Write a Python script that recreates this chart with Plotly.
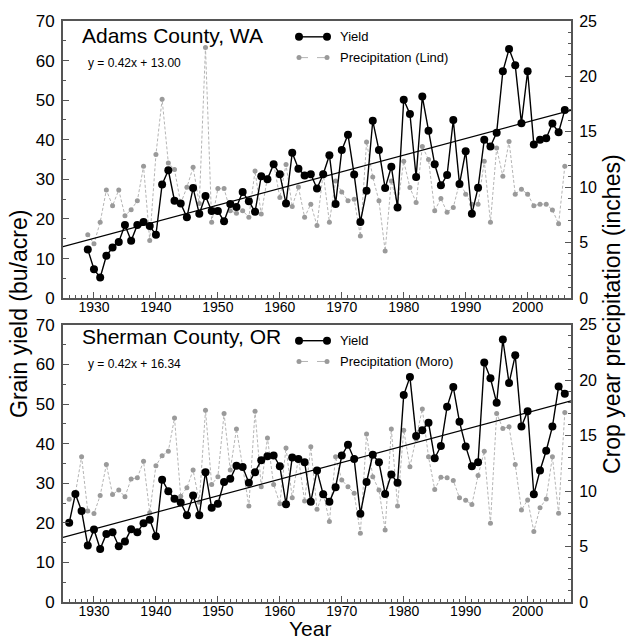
import plotly.graph_objects as go

# ---------------- data ----------------
adams_years = [1929, 1930, 1931, 1932, 1933, 1934, 1935, 1936, 1937, 1938, 1939,
               1940, 1941, 1942, 1943, 1944, 1945, 1946, 1947, 1948, 1949,
               1950, 1951, 1952, 1953, 1954, 1955, 1956, 1957, 1958, 1959,
               1960, 1961, 1962, 1963, 1964, 1965, 1966, 1967, 1968, 1969,
               1970, 1971, 1972, 1973, 1974, 1975, 1976, 1977, 1978, 1979,
               1980, 1981, 1982, 1983, 1984, 1985, 1986, 1987, 1988, 1989,
               1990, 1991, 1992, 1993, 1994, 1995, 1996, 1997, 1998, 1999,
               2000, 2001, 2002, 2003, 2004, 2005, 2006]
adams_yield = [12.3, 7.3, 5.2, 10.7, 12.8, 14.2, 18.5, 14.5, 18.5, 19.2, 18.2,
               16.0, 28.7, 32.3, 24.6, 23.9, 20.4, 27.8, 21.3, 25.8, 22.0,
               22.0, 19.4, 23.8, 23.0, 26.8, 24.5, 21.8, 30.8, 30.0, 33.8,
               31.3, 23.9, 36.7, 32.7, 31.0, 31.3, 27.7, 31.3, 36.1, 23.8,
               37.4, 41.3, 31.2, 19.2, 27.1, 44.8, 37.4, 27.8, 33.2, 22.9,
               50.1, 46.5, 30.6, 50.9, 42.3, 33.8, 28.5, 31.1, 45.0, 28.8,
               37.1, 21.3, 27.9, 40.0, 38.3, 41.8, 57.3, 62.9, 58.8, 44.2,
               57.3, 38.8, 40.0, 40.4, 44.1, 41.9, 47.5]
adams_precip = [5.71, 4.90, 6.85, 9.76, 8.33, 9.76, 7.44, 7.98, 8.78, 11.9, 5.21,
                12.95, 17.95, 12.2, 11.6, 8.54, 10.0, 11.8, 8.54, 22.6, 6.85,
                9.88, 9.88, 7.89, 7.65, 7.89, 7.29, 11.46, 7.59, 10.86, 12.14,
                9.08, 12.05, 8.27, 10.03, 7.29, 8.48, 6.55, 11.3, 6.85, 10.56,
                9.58, 8.78, 8.93, 5.60, 14.08, 10.92, 8.78, 4.26, 10.56, 8.33,
                12.35, 9.97, 8.63, 13.69, 12.5, 7.89, 8.99, 7.74, 8.18, 10.4,
                9.38, 8.48, 8.48, 12.35, 6.85, 13.54, 11.0, 14.14, 9.38, 9.82,
                9.38, 8.33, 8.48, 8.48, 7.95, 6.70, 11.9]

sherman_years = [1926, 1927, 1928, 1929, 1930, 1931, 1932, 1933, 1934, 1935,
                 1936, 1937, 1938, 1939, 1940, 1941, 1942, 1943, 1944, 1945,
                 1946, 1947, 1948, 1949, 1950, 1951, 1952, 1953, 1954, 1955,
                 1956, 1957, 1958, 1959, 1960, 1961, 1962, 1963, 1964, 1965,
                 1966, 1967, 1968, 1969, 1970, 1971, 1972, 1973, 1974, 1975,
                 1976, 1977, 1978, 1979, 1980, 1981, 1982, 1983, 1984, 1985,
                 1986, 1987, 1988, 1989, 1990, 1991, 1992, 1993, 1994, 1995,
                 1996, 1997, 1998, 1999, 2000, 2001, 2002, 2003, 2004, 2005, 2006]
sherman_yield = [20.0, 27.3, 23.0, 14.3, 18.3, 13.4, 17.2, 17.6, 14.1, 15.3,
                 18.4, 17.6, 19.9, 20.8, 16.6, 30.9, 28.0, 26.1, 25.1, 21.9,
                 26.9, 21.9, 32.8, 23.8, 24.8, 30.3, 31.1, 34.4, 34.1, 30.1,
                 32.8, 35.8, 36.8, 37.0, 34.3, 24.7, 36.5, 36.1, 35.3, 25.3,
                 33.2, 27.2, 25.3, 29.0, 37.0, 39.7, 36.1, 22.3, 30.3, 37.2,
                 35.3, 27.3, 32.2, 30.1, 52.3, 56.8, 41.9, 43.4, 45.3, 36.3,
                 39.4, 49.3, 54.3, 45.5, 39.3, 34.3, 35.3, 60.5, 56.5, 50.3,
                 66.3, 55.3, 62.3, 44.3, 48.2, 27.2, 33.2, 38.2, 44.3, 54.4, 52.6]
sherman_precip = [9.26, 9.8, 13.1, 8.2, 7.98, 9.6, 12.4, 9.7, 10.1, 9.5,
                  11.1, 11.2, 12.7, 8.06, 12.3, 13.2, 13.6, 16.6, 9.55, 10.3,
                  11.9, 9.0, 17.3, 10.6, 11.3, 17.0, 11.9, 15.6, 12.2, 8.66,
                  17.2, 10.4, 14.8, 10.6, 8.87, 13.9, 9.4, 13.0, 9.1, 14.0,
                  8.36, 9.85, 7.26, 13.1, 11.0, 10.4, 9.8, 6.2, 15.15, 11.3,
                  10.1, 6.5, 15.6, 8.66, 15.5, 12.2, 14.7, 17.4, 13.1, 10.15,
                  11.25, 11.2, 10.95, 9.4, 9.17, 8.8, 11.4, 13.6, 7.1, 17.0,
                  15.65, 15.8, 12.4, 8.3, 9.2, 6.37, 8.5, 9.3, 13.1, 8.0, 17.1]

trend_base_year = 1925
adams_slope, adams_intercept = 0.42, 13.00
sherman_slope, sherman_intercept = 0.42, 16.34
trend_x = [1925, 2007]

# ---------------- styling ----------------
FONT = "Liberation Sans, Arial, Helvetica, sans-serif"
W, H = 626, 641
ML, MR, MT, MB = 63, 55, 15, 39
PW = W - ML - MR
PH = H - MT - MB
AXC = "#555555"
GREY_M = "#9a9a9a"
GREY_L = "#b4b4b4"


def pxx(x):
    return (x - ML) / PW


def pxy(y):
    return (H - MB - y) / PH


panel_h = 280 / PH
top_dom = [1 - panel_h, 1.0]
bot_dom = [0.0, panel_h]

fig = go.Figure()


def add_panel(years, yld, prc, slope, intercept, xa, yprec, yyld):
    fig.add_trace(go.Scatter(
        x=years, y=prc, xaxis=xa, yaxis=yprec, mode="lines+markers",
        line=dict(color=GREY_L, width=1, dash="3px,2px"),
        marker=dict(color=GREY_M, size=5), showlegend=False, hoverinfo="skip"))
    fig.add_trace(go.Scatter(
        x=years, y=yld, xaxis=xa, yaxis=yyld, mode="lines+markers",
        line=dict(color="black", width=1.4),
        marker=dict(color="black", size=8), showlegend=False, hoverinfo="skip"))
    fig.add_trace(go.Scatter(
        x=trend_x, y=[slope * (t - trend_base_year) + intercept for t in trend_x],
        xaxis=xa, yaxis=yyld, mode="lines",
        line=dict(color="black", width=1.2), showlegend=False, hoverinfo="skip"))


add_panel(adams_years, adams_yield, adams_precip, adams_slope, adams_intercept, "x", "y", "y2")
add_panel(sherman_years, sherman_yield, sherman_precip, sherman_slope, sherman_intercept, "x2", "y3", "y4")

xcommon = dict(range=[1925, 2007], tick0=1930, dtick=10, ticks="inside", ticklen=6,
               tickcolor=AXC, tickwidth=1, showline=True, linecolor=AXC, linewidth=2,
               mirror=True, showgrid=False, zeroline=False,
               minor=dict(dtick=1, ticks="inside", ticklen=3, tickcolor=AXC, showgrid=False),
               tickfont=dict(family=FONT, size=14, color="black"), ticklabelstandoff=-5)
precip_common = dict(range=[0, 25], dtick=5, side="right", ticks="inside", ticklen=6,
                     tickcolor=AXC, showline=True, linecolor=AXC, linewidth=2,
                     showgrid=False, zeroline=False,
                     minor=dict(dtick=1, ticks="inside", ticklen=3, tickcolor=AXC, showgrid=False),
                     tickfont=dict(family=FONT, size=16, color="black"), ticklabelstandoff=3)
yield_common = dict(range=[0, 70], dtick=10, side="left", ticks="inside", ticklen=6,
                    tickcolor=AXC, showline=True, linecolor=AXC, linewidth=2,
                    showgrid=False, zeroline=False,
                    minor=dict(dtick=5, ticks="inside", ticklen=3, tickcolor=AXC, showgrid=False),
                    tickfont=dict(family=FONT, size=17, color="black"), ticklabelstandoff=3)

fig.update_layout(
    width=W, height=H, margin=dict(l=ML, r=MR, t=MT, b=MB),
    paper_bgcolor="white", plot_bgcolor="white", showlegend=False,
    font=dict(family=FONT, color="black"),
    xaxis=dict(domain=[0, 1], anchor="y", **xcommon),
    xaxis2=dict(domain=[0, 1], anchor="y3", **xcommon),
    yaxis=dict(domain=top_dom, anchor="x", **precip_common),
    yaxis2=dict(overlaying="y", anchor="x", **yield_common),
    yaxis3=dict(domain=bot_dom, anchor="x2", **precip_common),
    yaxis4=dict(overlaying="y3", anchor="x2", **yield_common),
)

annotations = [
    dict(text="Adams County, WA", x=pxx(80), y=pxy(30), font=dict(size=21)),
    dict(text="y = 0.42x + 13.00", x=pxx(86), y=pxy(57), font=dict(size=12)),
    dict(text="Sherman County, OR", x=pxx(80), y=pxy(334), font=dict(size=21)),
    dict(text="y = 0.42x + 16.34", x=pxx(86), y=pxy(362), font=dict(size=12)),
    dict(text="Yield", x=pxx(338), y=pxy(31), font=dict(size=13)),
    dict(text="Precipitation (Lind)", x=pxx(338), y=pxy(52), font=dict(size=13)),
    dict(text="Yield", x=pxx(338), y=pxy(338), font=dict(size=13)),
    dict(text="Precipitation (Moro)", x=pxx(338), y=pxy(359), font=dict(size=13)),
]
for a in annotations:
    a.update(xref="paper", yref="paper", xanchor="left", yanchor="middle", showarrow=False)
    a["font"].update(family=FONT, color="black")

annotations += [
    dict(text="Grain yield (bu/acre)", x=pxx(19), y=pxy(311), textangle=-90,
         yanchor="middle", font=dict(size=23, family=FONT, color="black")),
    dict(text="Crop year precipitation (inches)", x=pxx(612), y=pxy(311), textangle=-90,
         yanchor="middle", font=dict(size=23, family=FONT, color="black")),
    dict(text="Year", x=pxx(310), y=pxy(641), yanchor="bottom", borderpad=0,
         font=dict(size=21, family=FONT, color="black")),
]
for a in annotations[-3:]:
    a.update(xref="paper", yref="paper", xanchor="center", showarrow=False)
fig.update_layout(annotations=annotations)

# legend samples (drawn as shapes in paper space)
shapes = []
for ly, ls, mc, msz, dash in [(31, "black", "black", 8, "solid"), (52, GREY_L, GREY_M, 5, "dash"),
                              (338, "black", "black", 8, "solid"), (359, GREY_L, GREY_M, 5, "dash")]:
    shapes.append(dict(type="line", xref="paper", yref="paper", x0=pxx(299), x1=pxx(327),
                       y0=pxy(ly), y1=pxy(ly), line=dict(color=ls, width=1.4 if ls == "black" else 1, dash=dash)))
    for lx in (299, 327):
        r = msz / 2
        shapes.append(dict(type="circle", xref="paper", yref="paper", xsizemode="pixel",
                           ysizemode="pixel", xanchor=pxx(lx), yanchor=pxy(ly),
                           x0=-r, x1=r, y0=-r, y1=r, fillcolor=mc, line=dict(color=mc, width=0)))
fig.update_layout(shapes=shapes)

fig.write_html("out.html", config={"displayModeBar": False},
               post_script="document.body.style.margin='0px';document.body.style.padding='0px';"
                           "document.documentElement.style.overflow='hidden';")
